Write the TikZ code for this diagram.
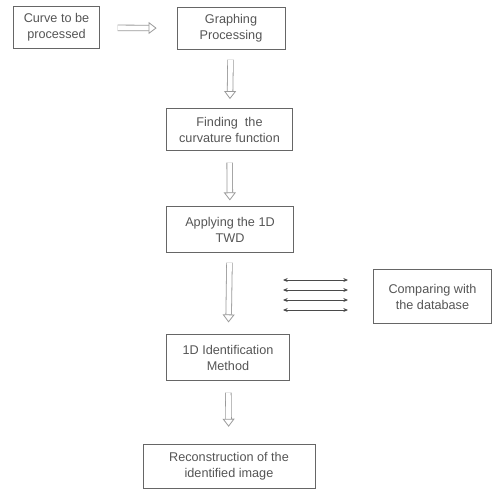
\documentclass[tikz,border=0pt]{standalone}
\usepackage{fontspec}
\setsansfont{Liberation Sans}
\usepackage{xcolor}
\usetikzlibrary{arrows.meta}
\definecolor{scInk}{HTML}{555555}
\definecolor{scLine}{HTML}{666666}
\definecolor{scArrow}{HTML}{9A9A9A}
\definecolor{scDark}{HTML}{4A4A4A}

\begin{document}
\begin{tikzpicture}[
  x=0.75pt, y=-0.75pt,
  font=\sffamily\fontsize{9.5}{12}\selectfont,
  stage/.style={draw=scLine, line width=0.6pt, text=scInk, align=center, inner sep=2pt},
  hollow/.style={draw=scArrow, line width=0.6pt, double=white, double distance=3.6pt,
                 -{Triangle[open, fill=white, length=6pt, width=9pt]}},
  swap/.style={{Stealth[length=3.5pt, width=3pt]}-{Stealth[length=3.5pt, width=3pt]},
               draw=scDark, line width=0.6pt},
]
\useasboundingbox (0,0) rectangle (493,490);

% ── Stages of the procedure ─────────────────────────────────────────────────
\node[stage, minimum width=65pt, minimum height=32pt] (curve) at (56.5,27.5) {Curve to be\\processed};
\node[stage, minimum width=81pt, minimum height=32pt] (graph) at (231,28.5) {Graphing\\Processing};
\node[stage, minimum width=95pt, minimum height=31pt] (curv)  at (229.5,129.5) {Finding\ \ the\\curvature function};
\node[stage, minimum width=95pt, minimum height=35pt] (twd)   at (230,229.5) {Applying the 1D\\TWD};
\node[stage, minimum width=92pt, minimum height=34pt] (ident) at (228,357.5) {1D Identification\\Method};
\node[stage, minimum width=129pt, minimum height=33pt] (recon) at (229,466.5) {Reconstruction of the\\identified image};
\node[stage, minimum width=89pt, minimum height=40pt] (dbase) at (432.5,296.5) {Comparing with\\the database};

% ── Hollow arrows between the stages ────────────────────────────────────────
\draw[hollow, shorten <=13pt, shorten >=15pt] (curve) -- (graph);
\draw[hollow, shorten <=7pt, shorten >=7pt]  (graph) -- (curv);
\draw[hollow, shorten <=9pt, shorten >=4pt]  (curv) -- (twd);
\draw[hollow, shorten <=7pt, shorten >=9pt]  (twd) -- (ident);
\draw[hollow, shorten <=9pt, shorten >=13pt] (ident) -- (recon);

% ── Exchange with the database ──────────────────────────────────────────────
\foreach \k/\yy in {1/280,2/290,3/300,4/310}{
  \coordinate (xl\k) at (283,\yy);
  \coordinate (xr\k) at (348,\yy);
  \draw[swap] (xl\k) -- (xr\k);
}

\end{tikzpicture}
\end{document}
